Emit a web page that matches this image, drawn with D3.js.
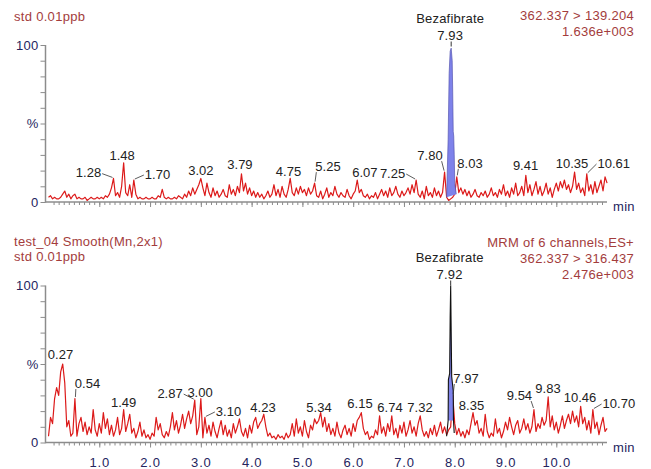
<!DOCTYPE html>
<html><head><meta charset="utf-8">
<script src="https://cdn.jsdelivr.net/npm/d3@7"></script>
<style>
body{margin:0;background:#fff;}
text{font-family:"Liberation Sans",Arial,sans-serif;}
</style></head><body>
<svg id="c" width="651" height="469"></svg>
<script>
// ---------------- DATA ----------------
const scanStep = 0.04; // minutes between scans, first scan at 0.00 min

// upper trace 362.337 > 139.204, % of 1.636e+003 (one row per minute)
const topPct = [
 3,4,2,3,2,2,3,5,7,3,5,2,4,5,2,3,2,2,3,1,2,3,2,2,3,
 2,3,2,4,3,5,9,15,4,6,3,10,25,6,4,11,3,14,5,2,3,2,2,3,2,
 2,3,2,2,4,3,8,3,2,3,2,2,3,2,4,3,2,5,3,7,4,9,5,8,11,
 15,9,4,12,6,3,9,4,7,3,5,8,4,3,11,5,8,4,10,6,18,7,12,5,9,
 4,7,3,6,3,5,2,4,7,3,5,11,4,8,3,10,5,3,8,15,6,4,9,5,10,
 6,8,4,9,5,7,12,4,3,7,2,5,9,3,6,4,10,5,3,6,4,3,8,4,2,
 5,7,14,6,8,4,3,5,2,4,3,6,2,5,8,4,7,3,9,4,6,10,5,3,7,
 4,6,9,5,11,6,14,5,3,7,2,10,4,6,3,9,4,7,3,6,19,3,1,2,3,
 5,16,6,9,5,8,4,7,3,5,8,4,3,6,4,7,3,5,9,4,6,3,8,5,11,
 4,7,3,9,5,12,4,6,10,4,17,6,11,4,8,13,5,10,4,7,12,5,9,3,8,
 12,7,13,9,14,8,11,6,10,19,8,12,6,9,4,18,7,11,5,13,6,10,14,7,16,
 12
];

// lower trace 362.337 > 316.437, % of 2.476e+003
const botPct = [
 4,16,12,28,35,30,45,50,38,10,14,4,6,28,4,12,16,7,13,5,10,6,21,8,4,
 12,6,19,9,15,5,11,4,8,16,5,9,21,7,12,18,6,9,3,7,13,4,8,3,5,
 2,6,4,16,8,12,5,3,7,4,10,19,8,14,6,11,18,9,15,20,12,17,27,5,10,
 28,3,16,6,11,4,13,7,3,9,14,5,11,4,8,3,12,6,10,15,7,4,9,3,11,
 6,13,16,9,12,14,18,10,4,6,3,4,2,5,3,4,2,6,3,5,12,4,15,6,10,
 4,14,7,3,11,8,15,12,14,19,10,16,7,12,5,9,4,13,6,3,8,11,5,9,4,
 12,7,14,16,19,9,5,7,2,4,3,8,5,17,6,10,4,12,7,17,5,9,3,11,6,
 13,4,8,14,6,10,4,12,17,8,4,7,3,9,5,11,4,8,13,6,10,5,8,10,30,
 12,5,9,4,7,3,8,5,12,19,11,14,6,9,4,18,7,3,6,4,15,6,9,3,7,
 13,8,16,10,5,11,14,6,9,15,8,12,6,10,21,7,12,9,16,11,14,29,10,17,8,
 13,6,11,17,9,14,18,12,20,13,17,10,23,12,16,8,14,6,21,9,13,5,11,16,7,
 9
];

// Bezafibrate peaks (finer sampling)
const topPeakTimes = [7.84,7.87,7.89,7.91,7.93,7.95,7.96,7.97,7.98,7.99,8.00,8.03];
const topPeakPct   = [3,40,82,96,98,90,70,45,42,30,12,5];
const botPeakTimes = [7.84,7.87,7.875,7.90,7.91,7.92,7.93,7.94,7.96,7.97,7.975,7.99];
const botPeakPct   = [4,14,40,44,80,100,70,42,36,33,14,6];
const botFillRange = [7.87,7.975];

const compoundName = "Bezafibrate";
const topPeakLabel = "7.93";
const botPeakLabel = "7.92";

const topLabels = ["1.28","1.48","1.70","3.02","3.79","4.75","5.25","6.07","7.25","7.80","8.03","9.41","10.35","10.61"];
const botLabels = ["0.27","0.54","1.49","2.87","3.00","3.10","4.23","5.34","6.15","6.74","7.32","7.97","8.35","9.54","9.83","10.46","10.70"];

const xTickValues = [1,2,3,4,5,6,7,8,9,10];
const xTickLabels = ["1.0","2.0","3.0","4.0","5.0","6.0","7.0","8.0","9.0","10.0"];
const yTickLabels = {0:"0",50:"%",100:"100"};

const topHeaderLeft = ["std 0.01ppb"];
const topHeaderRight = ["362.337 > 139.204","1.636e+003"];
const botHeaderLeft = ["test_04 Smooth(Mn,2x1)","std 0.01ppb"];
const botHeaderRight = ["MRM of 6 channels,ES+","362.337 > 316.437","2.476e+003"];

// ---------------- LAYOUT ----------------
// label offsets from peak apex: [dx, dy, leader]
const topLabelLayout = [[-25,-5.8,1],[-1.5,-7.8,0],[23.7,-6,1],[0,-8.5,0],[-1.5,-9.7,0],[-1.7,-7,0],[13.4,-17,1],[7.7,-8,0],[-23.6,-7,1],[-14.6,-17,1],[13.2,-14,1],[-0.3,-10.3,0],[-2.6,-9.2,0],[27,-10.7,1]];
const botLabelLayout = [[-2.2,-10,0],[12.6,-15.5,1],[0,-7.5,0],[-24.7,-7,1],[-0.8,-6.5,0],[23.6,-6.4,1],[-0.8,-7.2,0],[-1.7,-5.7,0],[-1.3,-9.7,0],[-1.8,-8.8,0],[-0.2,-8.8,0],[13.3,-17.4,1],[-1.5,-7.7,0],[-14.5,-14.5,1],[-0.2,-9,0],[-0.7,-9.4,0],[26,-6.5,1]];

const svg = d3.select("#c");
const x = d3.scaleLinear().domain([0, 11]).range([48.5, 48.5 + 11 * 50.78]);
const axisX0 = 45.5, axisX1 = 607;
const red = "#dc1a1a", axisCol = "#8c8c8c", navy = "#24245e", hdr = "#a33c3c", lab = "#222";

function panel(cfg) {
  const y = d3.scaleLinear().domain([0, 100]).range([cfg.y0, cfg.y100]);
  const g = svg.append("g");

  // trace
  const line = d3.line().x((d, i) => x(i * scanStep)).y(d => y(d));
  g.append("path").attr("d", line(cfg.trace)).attr("fill", "none")
    .attr("stroke", red).attr("stroke-width", 1.2).attr("stroke-linejoin", "round");

  // peak
  const pts = cfg.peakT.map((t, i) => [t, cfg.peakV[i]]);
  const pl = d3.line().x(d => x(d[0])).y(d => y(d[1]));
  const fillPts = cfg.fillRange ? pts.filter(p => p[0] >= cfg.fillRange[0] - 1e-9 && p[0] <= cfg.fillRange[1] + 1e-9) : pts;
  g.append("path").attr("d", pl(fillPts) + "Z").attr("fill", "#7e82ea").attr("stroke", "none");
  g.append("path").attr("d", pl(pts)).attr("fill", "none")
    .attr("stroke", cfg.peakStroke).attr("stroke-width", cfg.peakStrokeW);

  // y axis
  const ya = g.append("g").attr("transform", `translate(${axisX0},0)`)
    .call(d3.axisLeft(y).tickValues(d3.range(0, 101, 10)).tickSize(5).tickPadding(2)
      .tickFormat(v => yTickLabels[v] || ""));
  ya.select(".domain").remove();
  ya.selectAll("line").attr("stroke", axisCol);
  ya.selectAll("text").attr("fill", navy).style("font-size", "13px").attr("letter-spacing", "0.3px");
  g.append("line").attr("x1", axisX0).attr("x2", axisX0).attr("y1", y(100)).attr("y2", y(0) + 0.75)
    .attr("stroke", axisCol).attr("stroke-width", 1.5);

  // x axis
  const xa = g.append("g").attr("transform", `translate(0,${cfg.y0})`)
    .call(d3.axisBottom(x).tickValues(d3.range(1, 110).map(v => v / 10)).tickSize(3).tickFormat(""));
  xa.select(".domain").remove();
  xa.selectAll("line").attr("stroke", axisCol);
  const xm = g.append("g").attr("transform", `translate(0,${cfg.y0})`)
    .call(d3.axisBottom(x).tickValues(xTickValues).tickSize(5).tickPadding(10.5)
      .tickFormat((v, i) => cfg.showX ? xTickLabels[i] : ""));
  xm.select(".domain").remove();
  xm.selectAll("line").attr("stroke", axisCol);
  xm.selectAll("text").attr("fill", navy).style("font-size", "13px").attr("letter-spacing", "0.8px");
  g.append("line").attr("x1", axisX0).attr("x2", axisX1).attr("y1", cfg.y0).attr("y2", cfg.y0)
    .attr("stroke", axisCol).attr("stroke-width", 1.5);
  g.append("text").attr("x", 613).attr("y", cfg.y0 + 9).text("min")
    .attr("fill", navy).style("font-size", "13px").attr("letter-spacing", "0.3px");

  // peak labels
  cfg.labels.forEach((s, k) => {
    const t = +s;
    const c = Math.round(t / scanStep);
    let bi = c;
    [c - 1, c, c + 1].forEach(j => { if (cfg.trace[j] > cfg.trace[bi]) bi = j; });
    const ax = x(bi * scanStep), ay = y(cfg.trace[bi]);
    const [dx, dy, ld] = cfg.layout[k];
    const cx = ax + dx, cy = ay + dy;
    const tx = g.append("text").attr("x", cx).attr("y", cy + 4.7).attr("text-anchor", "middle")
      .attr("fill", lab).style("font-size", "13px").text(s);
    if (ld) {
      const hw = tx.node().getComputedTextLength() / 2;
      const sgn = dx < 0 ? 1 : -1;
      let x1, y1, x2, y2;
      if (Math.abs(dy) > 12) { x1 = cx + sgn * (hw - 1); y1 = cy + 6; x2 = ax - sgn * 0.5; y2 = ay - 1.5; }
      else { x1 = cx + sgn * (hw + 1); y1 = cy + 1; x2 = ax - sgn * 1; y2 = ay - 1; }
      g.append("line").attr("x1", x1).attr("y1", y1).attr("x2", x2).attr("y2", y2)
        .attr("stroke", "#333").attr("stroke-width", 0.8);
    }
  });

  // compound label
  const px = x(+cfg.peakLabel);
  g.append("text").attr("x", px - 1).attr("y", cfg.nameY).attr("text-anchor", "middle")
    .attr("fill", lab).style("font-size", "13px").attr("letter-spacing", "0.2px").text(compoundName);
  g.append("text").attr("x", px - 1).attr("y", cfg.nameY + 16.5).attr("text-anchor", "middle")
    .attr("fill", lab).style("font-size", "13px").attr("letter-spacing", "0.2px").text(cfg.peakLabel);
  g.append("line").attr("x1", px).attr("x2", px).attr("y1", cfg.nameY + 18.5).attr("y2", cfg.nameY + 23.5)
    .attr("stroke", "#333").attr("stroke-width", 1);

  // headers
  cfg.hl.forEach((s, i) => g.append("text").attr("x", 14).attr("y", cfg.hlY + i * 15).text(s)
    .attr("fill", hdr).style("font-size", "13px").attr("letter-spacing", "0.3px"));
  cfg.hr.forEach((s, i) => g.append("text").attr("x", 634).attr("y", cfg.hrY + i * 16).text(s)
    .attr("text-anchor", "end").attr("fill", hdr).style("font-size", "13px").attr("letter-spacing", "0.3px"));
}

panel({ y0: 202, y100: 45, trace: topPct, peakT: topPeakTimes, peakV: topPeakPct, fillRange: null,
  peakStroke: "#5656b0", peakStrokeW: 0.7, labels: topLabels, layout: topLabelLayout, showX: false,
  peakLabel: topPeakLabel, nameY: 23, hl: topHeaderLeft, hlY: 20.5, hr: topHeaderRight, hrY: 19.5 });

panel({ y0: 442.5, y100: 285.5, trace: botPct, peakT: botPeakTimes, peakV: botPeakPct, fillRange: botFillRange,
  peakStroke: "#111", peakStrokeW: 1.1, labels: botLabels, layout: botLabelLayout, showX: true,
  peakLabel: botPeakLabel, nameY: 262, hl: botHeaderLeft, hlY: 246, hr: botHeaderRight, hrY: 246.5 });
</script>
</body></html>
